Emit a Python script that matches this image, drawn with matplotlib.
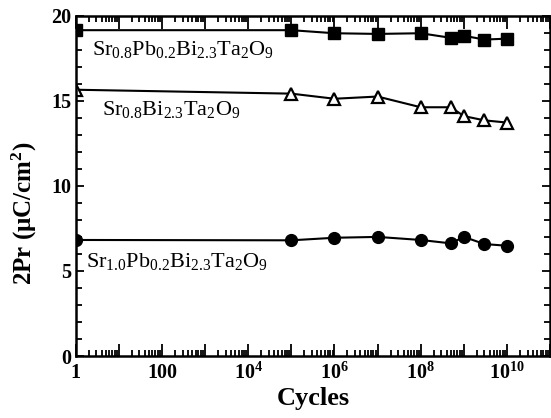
import matplotlib
matplotlib.use('Agg')
import matplotlib.pyplot as plt
import numpy as np
from matplotlib.ticker import FixedLocator, FixedFormatter, LogLocator, MultipleLocator, NullFormatter

# cycles at which 2Pr was measured
cycles = [1, 1e5, 1e6, 1e7, 1e8, 5e8, 1e9, 3e9, 1e10]

# 2Pr values (uC/cm^2) for the three compositions
sr08pb02 = [19.15, 19.15, 18.97, 18.93, 18.97, 18.70, 18.82, 18.60, 18.65]
sr08 = [15.65, 15.42, 15.12, 15.25, 14.62, 14.62, 14.10, 13.85, 13.72]
sr10pb02 = [6.82, 6.80, 6.95, 7.00, 6.82, 6.62, 7.00, 6.58, 6.48]

label_a = r'Sr$_{0.8}$Pb$_{0.2}$Bi$_{2.3}$Ta$_{2}$O$_{9}$'
label_b = r'Sr$_{0.8}$Bi$_{2.3}$Ta$_{2}$O$_{9}$'
label_c = r'Sr$_{1.0}$Pb$_{0.2}$Bi$_{2.3}$Ta$_{2}$O$_{9}$'

xtick_labels = ['1', '', '100', '', r'$\mathbf{10^{4}}$', '', r'$\mathbf{10^{6}}$', '',
                r'$\mathbf{10^{8}}$', '', r'$\mathbf{10^{10}}$', '']

plt.rcParams['font.family'] = ['Liberation Serif', 'DejaVu Serif']
plt.rcParams['mathtext.fontset'] = 'custom'
plt.rcParams['mathtext.rm'] = 'Liberation Serif'
plt.rcParams['mathtext.it'] = 'Liberation Serif:italic'
plt.rcParams['mathtext.bf'] = 'Liberation Serif:bold'

fig = plt.figure(figsize=(5.51, 4.18), dpi=100)
ax = fig.add_axes([0.1374, 0.1483, 0.861, 0.8141])

ax.plot(cycles, sr08pb02, color='black', lw=1.5, marker='s', ms=8.5, mfc='black', mec='black')
ax.plot(cycles, sr08, color='black', lw=1.5, marker='^', ms=8.5, mfc='white', mec='black', mew=1.6)
ax.plot(cycles, sr10pb02, color='black', lw=1.5, marker='o', ms=8.5, mfc='black', mec='black')

ax.set_xscale('log')
ax.set_xlim(1, 1e11)
ax.set_ylim(0, 20)

ax.xaxis.set_major_locator(FixedLocator([10.0 ** k for k in range(12)]))
ax.xaxis.set_major_formatter(FixedFormatter(xtick_labels))
ax.xaxis.set_minor_locator(LogLocator(base=10, subs=np.arange(2, 10), numticks=100))
ax.xaxis.set_minor_formatter(NullFormatter())
ax.yaxis.set_major_locator(MultipleLocator(5))
ax.yaxis.set_minor_locator(MultipleLocator(1))

ax.tick_params(which='both', direction='in', top=True, right=True, width=1.3, colors='black')
ax.tick_params(axis='x', which='major', length=9, pad=5)
ax.tick_params(axis='x', which='minor', length=4.5)
ax.tick_params(axis='y', which='major', length=6, pad=3)
ax.tick_params(axis='y', which='minor', length=4)
for lab in ax.get_xticklabels() + ax.get_yticklabels():
    lab.set_fontweight('bold')
    lab.set_fontsize(14.5)
for sp in ax.spines.values():
    sp.set_linewidth(1.8)

ax.set_xlabel('Cycles', fontsize=19, fontweight='bold', labelpad=2)
ax.set_ylabel(r'2Pr (μC/cm$^{\mathbf{2}}$)', fontsize=18, fontweight='bold')
ax.yaxis.set_label_coords(-0.078, 0.42)

ax.text(2.4, 18.0, label_a, fontsize=16, va='center', ha='left')
ax.text(4.0, 14.5, label_b, fontsize=16, va='center', ha='left')
ax.text(1.73, 5.55, label_c, fontsize=16, va='center', ha='left')

plt.savefig('out.png', dpi=100)
